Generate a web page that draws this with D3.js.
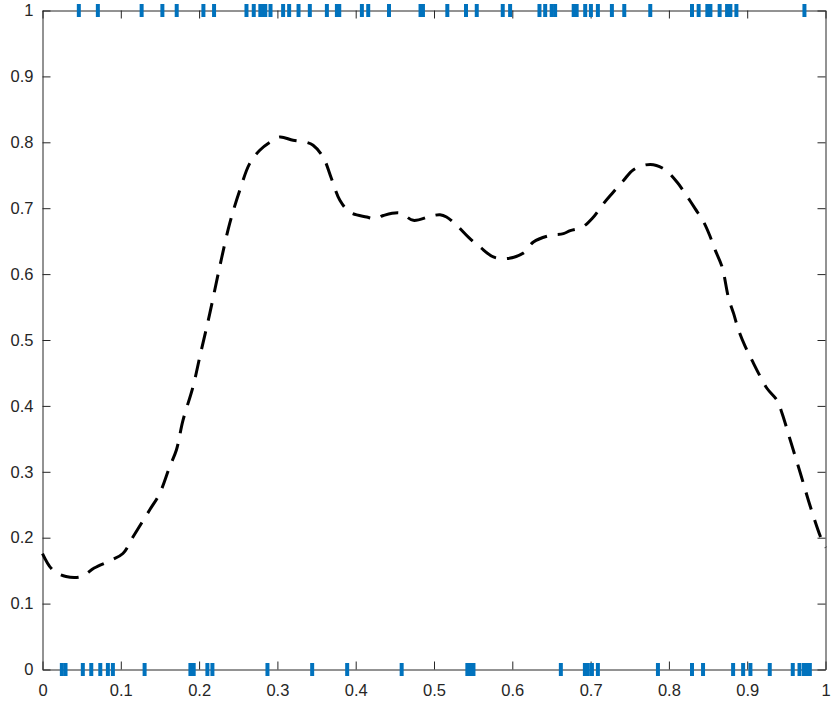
<!DOCTYPE html>
<html>
<head>
<meta charset="utf-8">
<script src="https://cdn.jsdelivr.net/npm/d3@7"></script>
<style>
  body { margin: 0; background: #fff; }
  svg text { font-family: "Liberation Sans", Arial, Helvetica, sans-serif; }
</style>
</head>
<body>
<div id="chart"></div>
<script>
// rug values sitting on y = 1 and y = 0
const rugTop = [0.0464, 0.0707, 0.1266, 0.1531, 0.1714, 0.2055, 0.2191, 0.2605, 0.2698,
	0.2782, 0.2813, 0.2845, 0.2912, 0.3073, 0.315, 0.327, 0.3414, 0.3632, 0.376, 0.379,
	0.4079, 0.416, 0.4425, 0.4828, 0.4859, 0.517, 0.5409, 0.5546, 0.5878, 0.5972, 0.6347,
	0.642, 0.6503, 0.6547, 0.6784, 0.6822, 0.6931, 0.7004, 0.7093, 0.7272, 0.743, 0.7762,
	0.8295, 0.838, 0.8491, 0.853, 0.8648, 0.8743, 0.8785, 0.8862, 0.9731];
const rugBottom = [0.0247, 0.0294, 0.0515, 0.0623, 0.0738, 0.0835, 0.0899, 0.1304, 0.1889,
	0.1931, 0.2106, 0.217, 0.2873, 0.3444, 0.3891, 0.4587, 0.5426, 0.5466, 0.5504, 0.662,
	0.6927, 0.6965, 0.7017, 0.7093, 0.786, 0.8295, 0.8436, 0.882, 0.8948, 0.9041, 0.9288,
	0.9582, 0.9668, 0.9725, 0.9765, 0.98];

// smoothed curve
const curveX = [0, 0.013, 0.03, 0.05, 0.066, 0.088, 0.1027, 0.1155, 0.1368, 0.1496, 0.1624,
	0.171, 0.1794, 0.1922, 0.2008, 0.2136, 0.2263, 0.2391, 0.2519, 0.2647, 0.2775, 0.2903,
	0.303, 0.32, 0.337, 0.3456, 0.3584, 0.369, 0.3798, 0.3926, 0.414, 0.4246, 0.4353, 0.4566,
	0.4736, 0.495, 0.5077, 0.516, 0.529, 0.5439, 0.5588, 0.5758, 0.593, 0.6142, 0.627, 0.6483,
	0.6653, 0.674, 0.689, 0.7017, 0.7165, 0.7272, 0.742, 0.7548, 0.7762, 0.7932, 0.8103,
	0.8209, 0.8337, 0.8444, 0.853, 0.8593, 0.8679, 0.8763, 0.8827, 0.889, 0.8977, 0.9062,
	0.9147, 0.9254, 0.938, 0.9446, 0.955, 0.968, 0.9807, 0.9936, 1];
const curveY = [0.176, 0.151, 0.141, 0.141, 0.154, 0.166, 0.176, 0.201, 0.242, 0.267, 0.3075,
	0.333, 0.378, 0.429, 0.474, 0.54, 0.611, 0.677, 0.727, 0.768, 0.788, 0.8, 0.808, 0.803,
	0.8, 0.7955, 0.7775, 0.745, 0.712, 0.694, 0.6866, 0.684, 0.689, 0.6927, 0.6816, 0.6877,
	0.69, 0.6866, 0.674, 0.656, 0.641, 0.626, 0.6235, 0.632, 0.6487, 0.6588, 0.6614, 0.666,
	0.671, 0.684, 0.707, 0.722, 0.742, 0.7585, 0.7665, 0.76, 0.7397, 0.722, 0.699, 0.679,
	0.656, 0.636, 0.611, 0.563, 0.54, 0.515, 0.4895, 0.469, 0.449, 0.4264, 0.4086, 0.3885,
	0.348, 0.2975, 0.2469, 0.2014, 0.185];

const tickVals = [0, 0.1, 0.2, 0.3, 0.4, 0.5, 0.6, 0.7, 0.8, 0.9, 1];
const tickLabels = ['0', '0.1', '0.2', '0.3', '0.4', '0.5', '0.6', '0.7', '0.8', '0.9', '1'];

const width = 831, height = 702;
const axisColor = '#262626';

const svg = d3.select('#chart').append('svg')
	.attr('width', width)
	.attr('height', height);

const xScale = d3.scaleLinear().domain([0, 1]).range([42.5, 825.5]);
const yScale = d3.scaleLinear().domain([0, 1]).range([669.5, 10.5]);

const fmt = (d) => tickLabels[tickVals.indexOf(d)];

const styleAxis = (g) => {
	g.select('.domain').attr('stroke', axisColor).attr('stroke-width', 1);
	g.selectAll('.tick line').attr('stroke', axisColor).attr('stroke-width', 1);
	g.selectAll('.tick text').attr('fill', axisColor).style('font-size', '16.5px');
};

svg.append('g')
	.attr('transform', `translate(0,${yScale(0)})`)
	.call(d3.axisBottom(xScale).tickValues(tickVals).tickFormat(fmt)
		.tickSize(-8).tickSizeOuter(0).tickPadding(15))
	.call(styleAxis);

svg.append('g')
	.attr('transform', `translate(0,${yScale(1)})`)
	.call(d3.axisTop(xScale).tickValues(tickVals).tickFormat('')
		.tickSize(-8).tickSizeOuter(0))
	.call(styleAxis);

svg.append('g')
	.attr('transform', `translate(${xScale(0)},0)`)
	.call(d3.axisLeft(yScale).tickValues(tickVals).tickFormat(fmt)
		.tickSize(-8).tickSizeOuter(0).tickPadding(9))
	.call(styleAxis);

svg.append('g')
	.attr('transform', `translate(${xScale(1)},0)`)
	.call(d3.axisRight(yScale).tickValues(tickVals).tickFormat('')
		.tickSize(-8).tickSizeOuter(0))
	.call(styleAxis);

// dashed curve
const line = d3.line()
	.x((d, i) => xScale(curveX[i]))
	.y((d, i) => yScale(curveY[i]))
	.curve(d3.curveCatmullRom);

svg.append('path')
	.datum(curveY)
	.attr('d', line)
	.attr('fill', 'none')
	.attr('stroke', '#000')
	.attr('stroke-width', 3)
	.attr('stroke-dasharray', '18,11');

// rug marks
const rug = (vals, yv) => {
	svg.append('g').selectAll('line')
		.data(vals)
		.enter()
		.append('line')
		.attr('x1', (d) => xScale(d))
		.attr('x2', (d) => xScale(d))
		.attr('y1', yScale(yv) - 6.5)
		.attr('y2', yScale(yv) + 6.5)
		.attr('stroke', '#0072BD')
		.attr('stroke-width', 4);
};
rug(rugTop, 1);
rug(rugBottom, 0);
</script>
</body>
</html>
